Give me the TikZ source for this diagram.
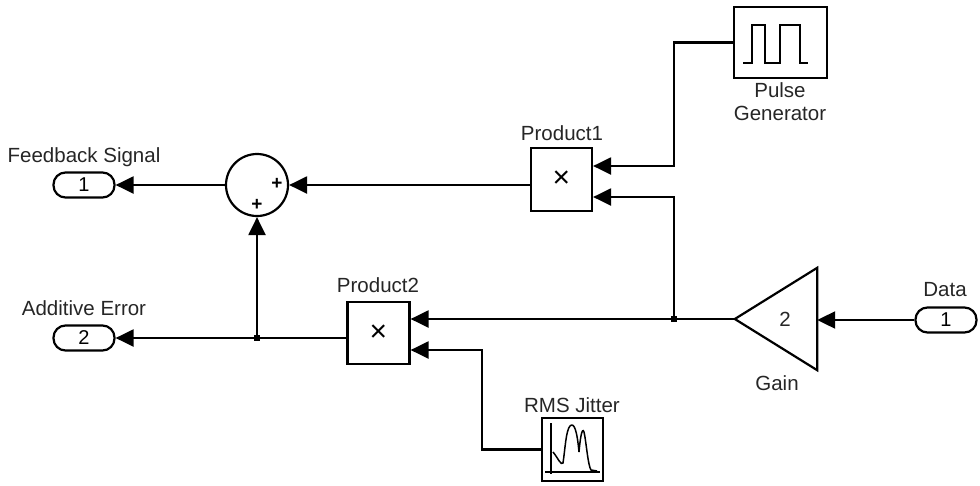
\documentclass[tikz,border=0pt]{standalone}
\usepackage{fontspec}
\setmainfont{Liberation Sans}
\usetikzlibrary{arrows.meta,calc}
\begin{document}
\begin{tikzpicture}[x=1pt,y=-1pt,
  lw/.style={line width=2.2pt},
  blk/.style={draw,lw,fill=white,inner sep=0pt},
  port/.style={draw,lw,rounded corners=12pt,minimum width=61pt,minimum height=25pt,inner sep=0pt,font=\fontsize{20}{22}\selectfont},
  lbl/.style={inner sep=0pt,text=black!85,font=\fontsize{20.5}{24}\selectfont},
  conn/.style={lw,-{Triangle[length=18pt,width=17pt]}},
  wire/.style={lw},
  icon/.style={line width=1.5pt},
  jdot/.style={fill=black,inner sep=0pt,minimum size=6pt}
]
\useasboundingbox (0,0) rectangle (980,485);

% blocks
\node[blk,minimum width=93pt,minimum height=71pt] (pulse) at (780.5,42.5) {};
\node[blk,minimum width=61pt,minimum height=63pt,font=\fontsize{30}{30}\selectfont] (p1) at (561.5,179.5) {×};
\node[blk,minimum width=62pt,minimum height=62pt,font=\fontsize{30}{30}\selectfont] (p2) at (378.5,333) {×};
\node[blk,circle,minimum size=62pt] (sum) at (257,185) {};
\node[blk,minimum width=61pt,minimum height=63pt] (rms) at (572.5,449.5) {};
\node[inner sep=0pt,minimum width=82pt,minimum height=102pt] (gain) at (776,319) {};
\draw[lw] (gain.west) -- (gain.north east) -- (gain.south east) -- cycle;
\node[lbl] (gval) at (785,319) {2};

% ports
\node[port] (fb) at (84,185) {1};
\node[port] (err) at (84,338) {2};
\node[port] (data) at (946,320) {1};

% labels
\node[lbl] (lfb) at (84,157) {Feedback Signal};
\node[lbl] (lerr) at (84,308) {Additive Error};
\node[lbl] (lp1) at (562,133) {Product1};
\node[lbl] (lp2) at (378,285) {Product2};
\node[lbl,align=center] (lpulse) at (780,102) {Pulse\\[-1pt]Generator};
\node[lbl] (lgain) at (777,383) {Gain};
\node[lbl] (ldata) at (945,290) {Data};
\node[lbl] (lrms) at (572,405) {RMS Jitter};

% plus signs in sum
\node[inner sep=0pt,font=\fontsize{19}{20}\bfseries] (pl1) at (277,184) {+};
\node[inner sep=0pt,font=\fontsize{19}{20}\bfseries] (pl2) at (257,205) {+};

% pulse icon
\draw[icon] (743,63) -- (752,63) -- (752,25) -- (765,25) -- (765,63) -- (780,63) -- (780,25) -- (800,25) -- (800,63) -- (808,63);

% rms jitter icon
\draw[icon] (551,423) -- (551,474);
\draw[icon] (545,472) -- (600,472);
\draw[icon] (553,452) .. controls (558,458) and (561,466) .. (563,463)
  .. controls (565,450) and (566,430) .. (570,426)
  .. controls (574,422) and (577,430) .. (579,452)
  .. controls (580,440) and (582,426) .. (584,432)
  .. controls (586,440) and (588,466) .. (591,470) -- (597,471);

% junctions
\coordinate (j1) at (674,319);
\coordinate (j2) at (257,338);
\node[jdot] (dj1) at (j1) {};
\node[jdot] (dj2) at (j2) {};
\coordinate (k1) at (674,166);
\coordinate (k3) at (674,197);
\coordinate (k2) at (482,350);

% connectors
\draw[conn] (pulse.west) -| (k1) -- (k1 -| p1.east);
\draw[conn] (j1) -- (k3) -- (k3 -| p1.east);
\draw[conn] (gain.west) -- (gain.west -| p2.east);
\draw[conn] (rms.west) -| (k2) -- (k2 -| p2.east);
\draw[conn] (p1.west |- sum.east) -- (sum.east);
\draw[conn] (sum.west) -- (fb.east);
\draw[wire] (p2.west |- j2) -- (j2);
\draw[conn] (j2) -- (err.east);
\draw[conn] (j2) -- (sum.south);
\draw[conn] (data.west) -- (data.west -| gain.east);
\end{tikzpicture}
\end{document}
